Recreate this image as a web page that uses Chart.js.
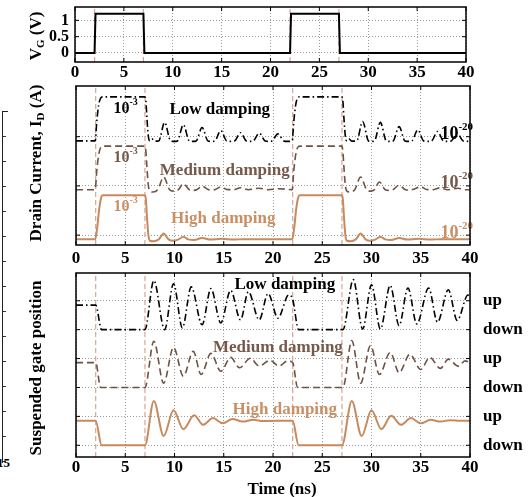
<!DOCTYPE html>
<html>
<head>
<meta charset="utf-8">
<title>Suspended-gate transient response</title>
<script src="https://cdn.jsdelivr.net/npm/chart.js@4.4.0/dist/chart.umd.min.js"></script>
<style>
  html, body { margin: 0; padding: 0; background: #fff; }
  body { width: 529px; height: 497px; position: relative; overflow: hidden;
         font-family: "Liberation Serif", "Times New Roman", serif; }
  canvas { position: absolute; left: 0; }
  .ytitle { position: absolute; font-weight: bold; font-size: 17px; white-space: nowrap;
            transform: translate(-50%, -50%) rotate(-90deg); color: #000; }
  .ytitle sub { font-size: 11px; vertical-align: -3px; }
  .xtitle { position: absolute; font-weight: bold; font-size: 17px; white-space: nowrap;
            transform: translate(-50%, -50%); color: #000; }
  /* partial axis of the neighbouring figure at the left edge */
  .edge { position: absolute; left: 2px; top: 111px; width: 5px; height: 351px;
          border-left: 1px solid #222; border-top: 1px solid #222;
          background: repeating-linear-gradient(to bottom, transparent 0 24px, #333 24px 25px) left top / 3px 100% no-repeat; }
  .edge-num { position: absolute; left: -3px; top: 456px; font: bold 13px "Liberation Serif", serif; line-height: 13px; }
</style>
</head>
<body>
<div class="edge"></div><div class="edge-num">15</div>

<canvas id="vg" width="529" height="80" style="top:0;width:529px;height:80px"></canvas>
<canvas id="id" width="529" height="185" style="top:80px;width:529px;height:185px"></canvas>
<canvas id="pos" width="529" height="232" style="top:265px;width:529px;height:232px"></canvas>

<div class="ytitle" style="left:36px;top:36px">V<sub>G</sub> (V)</div>
<div class="ytitle" style="left:36px;top:163px">Drain Current, I<sub>D</sub> (A)</div>
<div class="ytitle" style="left:36px;top:368px">Suspended gate position</div>
<div class="xtitle" style="left:282px;top:489px">Time (ns)</div>

<script>
// ---- gate voltage pulse train (ns, V) ----
const TIME_VG = [0, 2, 2.1, 7, 7.1, 22, 22.1, 27, 27.1, 40];
const VG      = [0, 0, 1.2, 1.2, 0, 0, 1.2, 1.2, 0, 0];
const VG_TICKS = [0, 0.5, 1];

// switching instants of the gate voltage (ns)
const SWITCH_TIMES = [2, 7, 22, 27];

const SERIES_NAMES = ['Low damping', 'Medium damping', 'High damping'];

// ---- drain current, log10(I_D / A) ----
const ON_LOG = -3;     // on-state current, 10^-3 A
const GRID_LOG = -20;  // reference line of each row, 10^-20 A

const T_ID_LOW = [0, 1.95, 2.1, 2.3, 2.5, 2.7, 7.0, 7.1, 7.2, 7.35, 7.5, 7.7, 8.0, 8.4, 9.0, 9.6, 10.0, 10.3, 10.9, 11.5, 11.9, 12.2, 12.8, 13.4, 13.8, 14.1, 14.7, 15.3, 15.7, 16.1, 16.7, 17.3, 17.7, 18.0, 18.6, 19.2, 19.6, 19.9, 20.5, 21.1, 21.5, 21.95, 22.1, 22.3, 22.5, 22.7, 27.0, 27.1, 27.2, 27.35, 27.5, 27.7, 28.0, 28.5, 29.1, 29.7, 30.0, 30.3, 30.9, 31.5, 31.9, 32.2, 32.8, 33.4, 33.8, 34.1, 34.7, 35.3, 35.7, 36.1, 36.7, 37.3, 37.7, 38.1, 38.7, 39.3, 39.7, 40];
const LOG_ID_LOW = [-21.8, -21.8, -14, -6.5, -3.5, -3, -3, -5, -12, -20, -21.8, -20.9, -21.9, -21.8, -13.9, -21.8, -22.0, -21.8, -14.9, -21.8, -22.0, -21.8, -16.1, -21.8, -22.0, -21.8, -17.4, -21.8, -22.0, -21.8, -18.3, -21.8, -22.0, -21.8, -18.5, -21.8, -22.0, -21.8, -18.8, -21.8, -22.0, -21.8, -14, -6.5, -3.5, -3, -3, -5, -12, -20, -21.8, -20.9, -21.9, -21.8, -13.5, -21.8, -22.0, -21.8, -13.9, -21.8, -22.0, -21.8, -15.7, -21.8, -22.0, -21.8, -17.1, -21.8, -22.0, -21.8, -17.8, -21.8, -22.0, -21.8, -18.5, -21.8, -22.0, -21.9];

const T_ID_MED = [0, 1.95, 2.1, 2.3, 2.5, 2.7, 7.0, 7.1, 7.2, 7.35, 7.5, 7.8, 8.3, 8.9, 9.5, 9.9, 10.4, 10.9, 11.5, 11.9, 12.3, 12.8, 13.4, 13.8, 14.2, 14.7, 15.3, 16.0, 16.7, 17.5, 18.6, 19.5, 20.6, 21.95, 22.1, 22.3, 22.5, 22.7, 27.0, 27.1, 27.2, 27.35, 27.5, 27.8, 28.3, 28.9, 29.5, 29.9, 30.3, 30.8, 31.4, 31.8, 32.2, 32.8, 33.4, 33.8, 34.3, 35.0, 35.6, 36.2, 37.0, 37.7, 38.8, 39.5, 40];
const LOG_ID_MED = [-21.6, -21.6, -14, -6.8, -3.6, -3, -3, -5.5, -12, -20, -22.2, -22.6, -21.6, -16.2, -21.6, -22.2, -21.6, -19.0, -21.6, -21.9, -21.5, -20.1, -21.5, -21.8, -21.4, -20.4, -21.5, -21.6, -20.8, -21.6, -21.0, -21.6, -21.2, -21.6, -14, -6.8, -3.6, -3, -3, -5.5, -12, -20, -22.2, -22.6, -21.6, -16.2, -21.6, -22.2, -21.6, -18.3, -21.6, -21.9, -21.5, -19.7, -21.5, -21.8, -21.4, -20.3, -21.5, -21.6, -20.8, -21.6, -21.0, -21.6, -21.6];

const T_ID_HIGH = [0, 1.95, 2.15, 2.35, 2.55, 2.7, 7.0, 7.1, 7.2, 7.35, 7.5, 7.9, 8.4, 8.9, 9.4, 9.9, 10.4, 10.9, 11.4, 12.0, 12.8, 13.6, 14.8, 16.0, 17.0, 21.95, 22.15, 22.35, 22.55, 22.7, 27.0, 27.1, 27.2, 27.35, 27.5, 27.9, 28.4, 28.9, 29.4, 29.9, 30.4, 30.9, 31.4, 32.0, 32.8, 33.6, 34.8, 36.0, 37.0, 40];
const LOG_ID_HIGH = [-21.8, -21.8, -17, -9, -4, -3, -3, -5, -12, -20, -22.4, -22.6, -21.8, -19.3, -21.8, -22.4, -21.8, -20.7, -21.8, -22.1, -21.2, -21.9, -21.5, -21.9, -21.7, -21.8, -17, -9, -4, -3, -3, -5, -12, -20, -22.4, -22.6, -21.8, -19.3, -21.8, -22.4, -21.8, -20.7, -21.8, -22.1, -21.2, -21.9, -21.5, -21.9, -21.7, -21.8];

// ---- suspended gate position (down = 0, up = 1) ----
const T_POS_LOW = [0, 2.0, 2.6, 7.0, 7.9, 9.0, 9.9, 10.8, 11.7, 12.8, 13.7, 14.7, 15.7, 16.7, 17.5, 18.6, 19.5, 20.5, 21.6, 22.0, 22.6, 27.1, 28.15, 29.1, 30.0, 30.9, 31.9, 32.8, 33.7, 34.6, 35.8, 36.7, 37.8, 38.7, 39.8, 40];
const POS_LOW   = [0.85, 0.85, 0, 0, 1.70, 0, 1.59, 0.06, 1.48, 0.17, 1.42, 0.23, 1.36, 0.34, 1.31, 0.34, 1.25, 0.40, 1.20, 1.05, 0, 0, 1.73, 0.02, 1.55, 0.02, 1.53, 0.14, 1.44, 0.20, 1.44, 0.26, 1.38, 0.32, 1.20, 1.15];

const T_POS_MED = [0, 2.0, 2.5, 7.0, 7.9, 8.9, 9.9, 10.9, 11.9, 12.7, 13.7, 14.7, 15.7, 16.6, 17.7, 18.6, 19.7, 20.6, 21.5, 22.0, 22.5, 27.1, 28.0, 28.9, 29.9, 30.8, 31.9, 32.8, 33.9, 35.0, 35.9, 37.0, 37.8, 38.8, 39.5, 40];
const POS_MED   = [0.86, 0.86, 0, 0, 1.60, 0.15, 1.39, 0.39, 1.25, 0.45, 1.18, 0.56, 1.04, 0.68, 1.01, 0.74, 0.94, 0.74, 0.92, 0.86, 0, 0, 1.62, 0.15, 1.45, 0.45, 1.21, 0.51, 1.15, 0.62, 1.04, 0.66, 0.98, 0.74, 0.92, 0.86];

const T_POS_HIGH = [0, 2.0, 2.6, 7.0, 7.9, 8.9, 9.9, 10.9, 12.0, 12.9, 13.9, 14.9, 15.9, 16.9, 18.0, 19.0, 22.0, 22.6, 27.0, 28.0, 29.0, 30.0, 31.0, 32.0, 33.0, 34.0, 35.0, 36.0, 37.0, 38.0, 39.0, 40];
const POS_HIGH   = [0.85, 0.85, 0, 0, 1.53, 0.32, 1.21, 0.56, 1.04, 0.71, 0.94, 0.76, 0.91, 0.82, 0.88, 0.84, 0.85, 0, 0, 1.53, 0.32, 1.21, 0.56, 1.02, 0.71, 0.94, 0.76, 0.88, 0.82, 0.87, 0.85, 0.85];

const GATE_LEVEL_LABELS = ['down', 'up'];

// ---- styling ----
const SERIF = '"Liberation Serif", "Times New Roman", serif';
const COLORS = { low: '#000000', med: '#6e5244', high: '#c68a5e' };
const TEXT_COLORS = { low: '#000000', med: '#76594b', high: '#c98f65' };
const MARKER_COLOR = '#d9a292';
const GRID_COLOR = '#9a9a9a';

// stacked-row layout of the lower two panels
const DECADES_PER_ROW = 21;       // decades of current per row height
const ID_ROWS = { low: 2, med: 1, high: 0 };
const POS_ROWS = { low: 4, med: 2, high: 0 };

const toIdRow = (logs, row) => logs.map(v => row + (v - GRID_LOG) / DECADES_PER_ROW);
const toPosRow = (vals, row) => vals.map(v => row + v);
const points = (ts, ys) => ts.map((t, i) => ({ x: t, y: ys[i] }));

function trace(ts, ys, color, width, dash) {
  return {
    data: points(ts, ys), borderColor: color, borderWidth: width, borderDash: dash,
    pointRadius: 0, fill: false, cubicInterpolationMode: 'monotone'
  };
}

function markerLines(lo, hi) {
  const data = [];
  SWITCH_TIMES.forEach(t => data.push({ x: t, y: lo }, { x: t, y: hi }, { x: t, y: null }));
  return { data, borderColor: MARKER_COLOR, borderWidth: 1.2, borderDash: [5, 3],
           pointRadius: 0, spanGaps: false, fill: false };
}

function xAxis(height, pad) {
  return {
    type: 'linear', min: 0, max: 40,
    ticks: { stepSize: 5, autoSkip: false, maxRotation: 0, padding: pad, color: '#000',
             font: { family: SERIF, size: 17, weight: 'bold' } },
    grid: { color: GRID_COLOR, lineWidth: 1, drawTicks: false },
    border: { display: false, dash: [1, 2] },
    afterFit(s) { s.height = height; s.paddingLeft = 0; s.paddingRight = 0; }
  };
}

function yAxis(min, max, tickValues, width, extra) {
  return Object.assign({
    type: 'linear', min, max,
    afterBuildTicks(s) { s.ticks = tickValues.map(v => ({ value: v })); },
    ticks: { display: false },
    grid: { color: GRID_COLOR, lineWidth: 1, drawTicks: false },
    border: { display: false, dash: [1, 2] },
    afterFit(s) { s.width = width; s.paddingTop = 0; s.paddingBottom = 0; }
  }, extra || {});
}

// box around the plot area with short inward ticks
const framePlugin = {
  id: 'frame',
  afterDraw(chart) {
    const { ctx, chartArea: a, scales } = chart;
    const tl = 4;
    ctx.save();
    ctx.strokeStyle = '#000';
    ctx.lineWidth = 1;
    ctx.beginPath();
    scales.x.ticks.forEach(t => {
      const px = scales.x.getPixelForValue(t.value);
      ctx.moveTo(px, a.bottom); ctx.lineTo(px, a.bottom - tl);
      ctx.moveTo(px, a.top); ctx.lineTo(px, a.top + tl);
    });
    scales.y.ticks.forEach(t => {
      const py = scales.y.getPixelForValue(t.value);
      ctx.moveTo(a.left, py); ctx.lineTo(a.left + tl, py);
      ctx.moveTo(a.right, py); ctx.lineTo(a.right - tl, py);
    });
    ctx.stroke();
    ctx.lineWidth = 1.5;
    ctx.strokeRect(a.left, a.top, a.right - a.left, a.bottom - a.top);
    ctx.restore();
  }
};

// text notes placed in data coordinates; optional superscript
function notesPlugin(items) {
  return {
    id: 'notes',
    afterDatasetsDraw(chart) {
      const { ctx, scales: { x, y } } = chart;
      ctx.save();
      ctx.textBaseline = 'alphabetic';
      items.forEach(n => {
        const px = x.getPixelForValue(n.t);
        const py = y.getPixelForValue(n.y);
        ctx.fillStyle = n.color;
        ctx.font = `bold ${n.size}px ${SERIF}`;
        if (n.exp !== undefined) {
          ctx.textAlign = 'left';
          ctx.fillText(n.text, px, py);
          const w = ctx.measureText(n.text).width;
          ctx.font = `bold ${n.expSize}px ${SERIF}`;
          ctx.fillText(n.exp, px + w, py - n.size * 0.5);
        } else {
          ctx.textAlign = 'center';
          ctx.fillText(n.text, px, py);
        }
      });
      ctx.restore();
    }
  };
}

const baseOptions = {
  responsive: false, animation: false, devicePixelRatio: 1, events: [],
  plugins: { legend: { display: false }, tooltip: { enabled: false } }
};

// ---- panel 1: gate voltage ----
const VG_MIN = -0.276, VG_MAX = 1.41;
new Chart(document.getElementById('vg'), {
  type: 'line',
  data: { datasets: [
    { data: points(TIME_VG, VG), borderColor: '#000', borderWidth: 2, pointRadius: 0, fill: false, tension: 0 },
    markerLines(VG_MIN, VG_MAX)
  ] },
  options: Object.assign({}, baseOptions, {
    layout: { padding: { top: 7, right: 63, left: 0, bottom: 0 } },
    scales: {
      x: xAxis(18, 0),
      y: yAxis(VG_MIN, VG_MAX, VG_TICKS, 75, {
        ticks: { display: true, padding: 6, color: '#000', callback: v => String(v),
                 font: { family: SERIF, size: 16, weight: 'bold' } }
      })
    }
  }),
  plugins: [framePlugin]
});

// ---- panel 2: drain current, rows offset per damping case ----
const ID_MIN = -0.2, ID_MAX = 3.03;
const onY = r => r + (ON_LOG - GRID_LOG) / DECADES_PER_ROW;
const idNotes = [];
[['low', 2.457, 14.6], ['med', 1.23, 15.1], ['high', 0.245, 14.95]].forEach(([k, ny, nt], i) => {
  const row = ID_ROWS[k];
  idNotes.push({ t: 3.8, y: row + 0.49, text: '10', exp: String(ON_LOG), size: 16, expSize: 10, color: TEXT_COLORS[k] });
  idNotes.push({ t: 37.0, y: row - 0.05, text: '10', exp: String(GRID_LOG), size: 18, expSize: 11, color: TEXT_COLORS[k] });
  idNotes.push({ t: nt, y: ny, text: SERIES_NAMES[i], size: 17, color: TEXT_COLORS[k] });
});

new Chart(document.getElementById('id'), {
  type: 'line',
  data: { datasets: [
    trace(T_ID_LOW, toIdRow(LOG_ID_LOW, ID_ROWS.low), COLORS.low, 1.6, [7, 3, 1.5, 3]),
    trace(T_ID_MED, toIdRow(LOG_ID_MED, ID_ROWS.med), COLORS.med, 1.6, [7, 4]),
    trace(T_ID_HIGH, toIdRow(LOG_ID_HIGH, ID_ROWS.high), COLORS.high, 2, []),
    markerLines(ID_MIN, ID_MAX)
  ] },
  options: Object.assign({}, baseOptions, {
    layout: { padding: { top: 6, right: 59, left: 0, bottom: 0 } },
    scales: {
      x: xAxis(20, 3),
      y: yAxis(ID_MIN, ID_MAX, [ID_ROWS.high, ID_ROWS.med, ID_ROWS.low], 76)
    }
  }),
  plugins: [framePlugin, notesPlugin(idNotes)]
});

// ---- panel 3: gate position, rows offset per damping case ----
const POS_MIN = -0.405, POS_MAX = 5.96;
const POS_TICKS = [0, 1, 2, 3, 4, 5];
const posNotes = [
  { t: 21.2, y: 5.42, text: SERIES_NAMES[0], size: 17, color: TEXT_COLORS.low },
  { t: 20.5, y: 3.23, text: SERIES_NAMES[1], size: 17, color: TEXT_COLORS.med },
  { t: 21.2, y: 1.07, text: SERIES_NAMES[2], size: 17, color: TEXT_COLORS.high }
];

new Chart(document.getElementById('pos'), {
  type: 'line',
  data: { datasets: [
    trace(T_POS_LOW, toPosRow(POS_LOW, POS_ROWS.low), COLORS.low, 1.6, [7, 3, 1.5, 3]),
    trace(T_POS_MED, toPosRow(POS_MED, POS_ROWS.med), COLORS.med, 1.6, [7, 4]),
    trace(T_POS_HIGH, toPosRow(POS_HIGH, POS_ROWS.high), COLORS.high, 2, []),
    markerLines(POS_MIN, POS_MAX)
  ] },
  options: Object.assign({}, baseOptions, {
    layout: { padding: { top: 8, right: 0, left: 0, bottom: 0 } },
    scales: {
      x: xAxis(40, 0),
      y: yAxis(POS_MIN, POS_MAX, POS_TICKS, 76),
      yr: yAxis(POS_MIN, POS_MAX, POS_TICKS, 59, {
        position: 'right',
        grid: { display: false },
        ticks: { display: true, padding: 5, color: '#000',
                 callback: v => GATE_LEVEL_LABELS[v % 2],
                 font: { family: SERIF, size: 17, weight: 'bold' } }
      })
    }
  }),
  plugins: [framePlugin, notesPlugin(posNotes)]
});
</script>
</body>
</html>
